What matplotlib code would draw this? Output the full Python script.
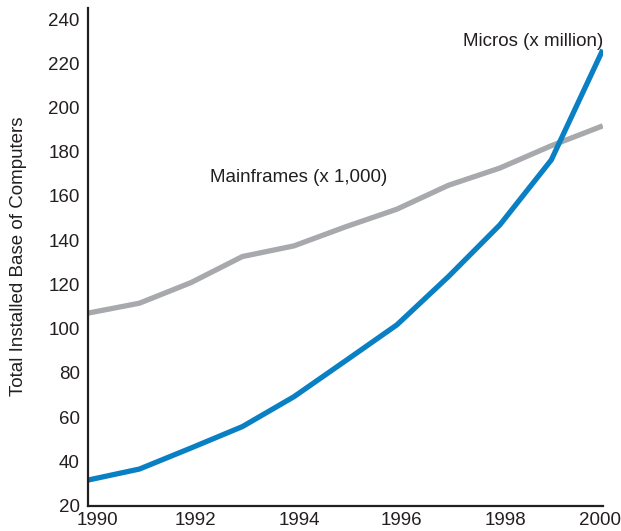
#!/usr/bin/env python3
"""Installed base of computers, 1990-2000: mainframes vs micros."""

import matplotlib

matplotlib.use("Agg")
import matplotlib.pyplot as plt
import matplotlib.transforms as mtransforms

years = [1990, 1991, 1992, 1993, 1994, 1995, 1996, 1997, 1998, 1999, 2000]
mainframes = [107.0, 111.5, 120.8, 132.6, 137.4, 146.0, 154.0, 164.8, 172.6, 182.7, 191.7]
micros = [31.5, 36.5, 46.0, 55.7, 69.2, 85.4, 101.7, 123.5, 146.9, 176.3, 226.1]

x_ticks = [1990, 1992, 1994, 1996, 1998, 2000]
y_ticks = [20, 40, 60, 80, 100, 120, 140, 160, 180, 200, 220, 240]

c_blue = "#0a80c4"
c_gray = "#a7a9ac"
c_ink = "#231f20"
fs = 13.5

plt.rcParams["font.family"] = ["Liberation Sans", "DejaVu Sans"]

fig = plt.figure(figsize=(6.21, 5.31), dpi=100)
ax = fig.add_axes([0.1417, 0.048, 0.829, 0.937])

ax.plot(years, mainframes, color=c_gray, linewidth=3.8, solid_capstyle="butt")
ax.plot(years, micros, color=c_blue, linewidth=3.8, solid_capstyle="butt")

ax.set_xlim(1990, 2000)
ax.set_ylim(20, 245)
ax.set_xticks(x_ticks)
ax.set_yticks(y_ticks)
ax.tick_params(length=0, labelsize=fs, colors=c_ink)
ax.tick_params(axis="y", pad=6)
ax.tick_params(axis="x", pad=5)
for s in ("top", "right"):
    ax.spines[s].set_visible(False)
for s in ("left", "bottom"):
    ax.spines[s].set_color(c_ink)
    ax.spines[s].set_linewidth(1.6)

# year labels sit a little right of their ticks, the last one pulled in
shifts_px = [9, 4, 5, 5, 6, -3]
for lab, dx in zip(ax.get_xticklabels(), shifts_px):
    off = mtransforms.ScaledTranslation(dx / 100, 0, fig.dpi_scale_trans)
    lab.set_transform(lab.get_transform() + off)

ax.set_ylabel("Total Installed Base of Computers", fontsize=fs, color=c_ink)
ax.yaxis.set_label_coords(-0.118, 0.5)

ax.text(1992.37, 168.3, "Mainframes (x 1,000)", fontsize=fs, color=c_ink, va="center", ha="left")
ax.text(2000, 230, "Micros (x million)", fontsize=fs, color=c_ink, va="center", ha="right")

fig.savefig("out.png", dpi=100)
